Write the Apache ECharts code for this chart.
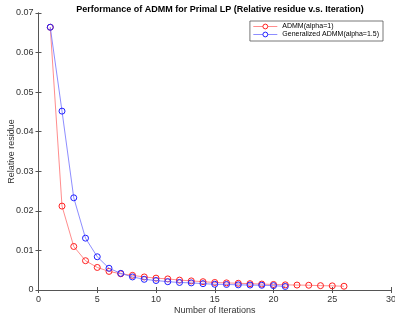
<!DOCTYPE html>
<html><head><meta charset="utf-8">
<script src="https://cdn.jsdelivr.net/npm/echarts@6/dist/echarts.min.js"></script>
<style>html,body{margin:0;padding:0;background:#fff}#c{width:395px;height:320px}</style>
</head><body><div id="c"></div>
<script>
var iterA = [1,2,3,4,5,6,7,8,9,10,11,12,13,14,15,16,17,18,19,20,21,22,23,24,25,26];
var admm = [0.0664,0.0212,0.0110,0.0074,0.0057,0.0047,0.0041,0.0037,0.0033,0.0030,0.0028,0.0025,0.0023,0.0021,0.0019,0.0018,0.0017,0.0016,0.0015,0.0014,0.0013,0.00125,0.0012,0.0011,0.00105,0.00095];
var iterB = [1,2,3,4,5,6,7,8,9,10,11,12,13,14,15,16,17,18,19,20,21];
var gadmm = [0.0664,0.0452,0.0233,0.0131,0.0084,0.0055,0.0042,0.0033,0.0027,0.0024,0.0021,0.0019,0.0018,0.0016,0.00145,0.0014,0.0013,0.00125,0.0012,0.0011,0.0009];
var titleText = 'Performance of ADMM for Primal LP (Relative residue v.s. Iteration)';
var xName = 'Number of Iterations';
var yName = 'Relative residue';
var nameA = 'ADMM(alpha=1)';
var nameB = 'Generalized ADMM(alpha=1.5)';

function pairs(xs, ys){ return xs.map(function(x,i){ return [x, ys[i]]; }); }
var font = 'Liberation Sans, Arial, Helvetica, sans-serif';
var axisCol = '#555';
var lblCol = '#333';
function baseX(show){
  return {type:'value', min:0, max:30, interval:5,
    axisLine:{show:true, lineStyle:{color:axisCol, width:1}},
    axisTick:{show:true, inside:true, length:3, lineStyle:{color:axisCol}},
    axisLabel:{show:show, color:lblCol, fontSize:9, fontFamily:font, margin:5},
    splitLine:{show:false}};
}
function baseY(show){
  return {type:'value', min:0, max:0.07, interval:0.01,
    axisLine:{show:true, lineStyle:{color:axisCol, width:1}},
    axisTick:{show:true, inside:true, length:3, lineStyle:{color:axisCol}},
    axisLabel:{show:show, color:lblCol, fontSize:9, fontFamily:font, margin:5,
      formatter:function(v){ return v===0 ? '0' : v.toFixed(2); }},
    splitLine:{show:false}};
}
var x0 = baseX(true);
x0.position='bottom'; x0.name = xName; x0.nameLocation='middle'; x0.nameGap=16;
x0.nameMoveOverlap = false;
x0.nameTextStyle = {color:lblCol, fontSize:9, fontFamily:font};
var x1 = baseX(false); x1.position='top';
var y0 = baseY(true);
y0.position='left'; y0.name = yName; y0.nameLocation='middle'; y0.nameGap=22;
y0.nameMoveOverlap = false;
y0.nameTextStyle = {color:lblCol, fontSize:9, fontFamily:font};
var y1 = baseY(false); y1.position='right';

var chart = echarts.init(document.getElementById('c'), null, {renderer:'canvas'});
chart.setOption({
  backgroundColor:'#fff',
  animation:false,
  title:{text:titleText, left:215, top:0, textAlign:'center',
    textStyle:{fontSize:9, fontWeight:'bold', color:'#000', fontFamily:font}},
  grid:{left:38.5, right:4, top:13, bottom:30, containLabel:false, outerBoundsMode:'none'},
  legend:{right:12, top:21, orient:'vertical', itemGap:1, itemWidth:24, itemHeight:6,
    padding:[2,4,3,3], borderColor:'#555', borderWidth:0.8, backgroundColor:'#fff',
    itemStyle:{borderWidth:1, color:'#fff'}, lineStyle:{width:0.8},
    textStyle:{fontSize:7, color:'#000', fontFamily:font},
    data:[nameA, nameB]},
  xAxis:[x0, x1],
  yAxis:[y0, y1],
  series:[
    {name:nameA, type:'line', xAxisIndex:0, yAxisIndex:0, data:pairs(iterA, admm),
      symbol:'circle', symbolSize:6, showSymbol:true,
      itemStyle:{color:'rgba(255,255,255,0)', borderColor:'#ff2020', borderWidth:1},
      lineStyle:{color:'#ff7070', width:0.8}, z:2},
    {name:nameB, type:'line', xAxisIndex:0, yAxisIndex:0, data:pairs(iterB, gadmm),
      symbol:'circle', symbolSize:6, showSymbol:true,
      itemStyle:{color:'rgba(255,255,255,0)', borderColor:'#2020ff', borderWidth:1},
      lineStyle:{color:'#7070ff', width:0.8}, z:3}
  ]
});
</script></body></html>
